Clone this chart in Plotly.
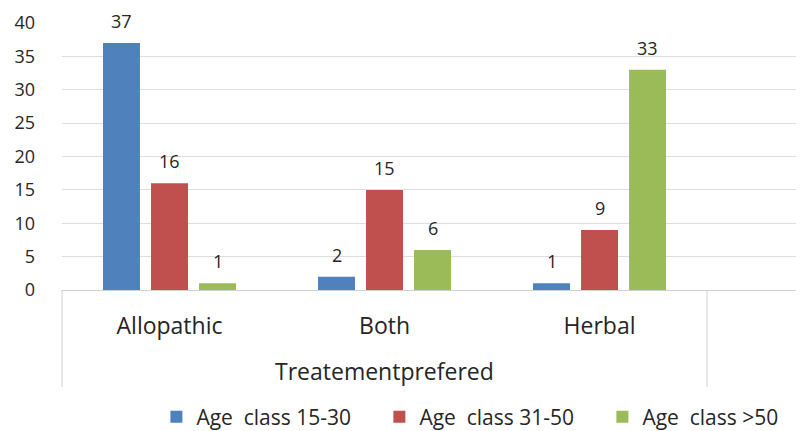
import plotly.graph_objects as go

categories = ["Allopathic", "Both", "Herbal"]
series_names = ["Age  class 15-30", "Age  class 31-50", "Age  class >50"]
age_15_30 = [37, 2, 1]
age_31_50 = [16, 15, 9]
age_over_50 = [1, 6, 33]
y_ticks = [0, 5, 10, 15, 20, 25, 30, 35, 40]
axis_title = "Treatementprefered"

colors = ["#4F81BD", "#C0504D", "#9BBB59"]
FONT = "Open Sans"
TXT = "#262626"

# page body has an 8px margin: size the figure to fit in the window
W, H = 796, 423
ML, MT, MB = 54, 15, 141
PH = H - MT - MB
BARGAP = 0.33

xpos = list(range(len(categories)))
all_series = [age_15_30, age_31_50, age_over_50]
fig = go.Figure()
for name, vals, col in zip(series_names, all_series, colors):
    fig.add_trace(go.Bar(
        x=xpos, y=vals, name=name, marker=dict(color=col, line=dict(width=0)),
    ))

slot = (1 - BARGAP) / len(all_series)
annotations = []
for i, vals in enumerate(all_series):
    off = (i - (len(all_series) - 1) / 2) * slot
    for xp, v in zip(xpos, vals):
        annotations.append(dict(
            x=xp + off, y=v, xref="x", yref="y", text=str(v), showarrow=False,
            yanchor="middle", yshift=22, font=dict(family=FONT, size=18, color=TXT)))

annotations.append(dict(text=axis_title, xref="x", yref="paper", x=1, y=-81 / PH,
                        yanchor="middle", showarrow=False,
                        font=dict(family=FONT, size=23, color=TXT)))

fig.update_layout(
    width=W, height=H,
    margin=dict(l=ML, r=0, t=MT, b=MB, autoexpand=False),
    plot_bgcolor="white", paper_bgcolor="white",
    barmode="group", bargap=BARGAP, bargroupgap=0.23,
    font=dict(family=FONT, size=18, color=TXT),
    showlegend=True,
    legend=dict(orientation="h", x=0.578, xanchor="center", yref="container", y=14 / H,
                yanchor="middle", font=dict(family=FONT, size=21, color=TXT),
                traceorder="normal", entrywidth=178, entrywidthmode="pixels"),
    xaxis=dict(
        tickmode="array", tickvals=xpos, ticktext=categories, automargin=False,
        range=[-0.5, 2.951], showgrid=False, zeroline=False,
        showline=True, linecolor="#d0d0d0", linewidth=1,
        ticks="", ticklabelstandoff=15,
        tickfont=dict(family=FONT, size=23, color=TXT),
    ),
    yaxis=dict(
        range=[0, 40], tickvals=y_ticks, showgrid=True, gridcolor="#dedede",
        zeroline=False, showline=False, ticks="", ticklabelstandoff=26, automargin=False,
        tickfont=dict(family=FONT, size=18, color=TXT),
    ),
    shapes=[
        dict(type="line", xref="paper", yref="paper", x0=0, x1=0, y0=0, y1=-97 / PH,
             line=dict(color="#d0d0d0", width=1)),
        dict(type="line", xref="x", yref="paper", x0=2.5, x1=2.5, y0=0, y1=-97 / PH,
             line=dict(color="#d0d0d0", width=1)),
    ],
    annotations=annotations,
)

fig.write_html("out.html")
